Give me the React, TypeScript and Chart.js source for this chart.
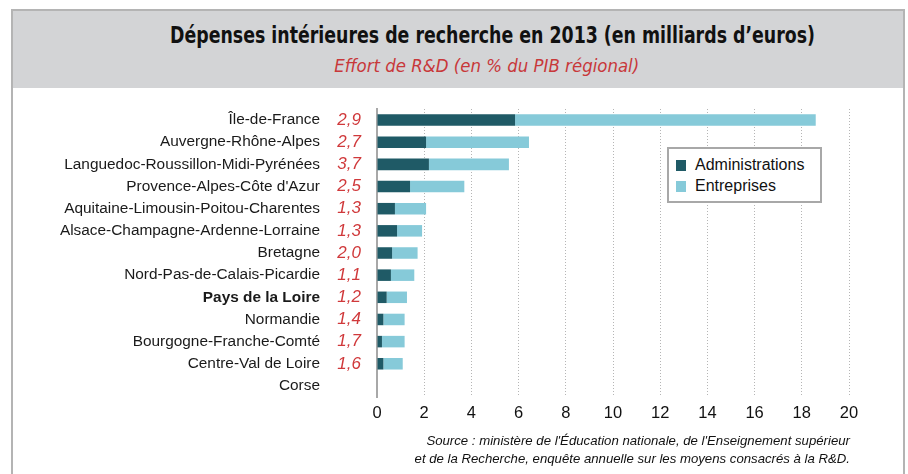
import React, { useEffect, useLayoutEffect, useRef } from 'react';
import { Chart, registerables } from 'chart.js';

Chart.register(...registerables);

const regions = [
  'Île-de-France',
  'Auvergne-Rhône-Alpes',
  'Languedoc-Roussillon-Midi-Pyrénées',
  "Provence-Alpes-Côte d'Azur",
  'Aquitaine-Limousin-Poitou-Charentes',
  'Alsace-Champagne-Ardenne-Lorraine',
  'Bretagne',
  'Nord-Pas-de-Calais-Picardie',
  'Pays de la Loire',
  'Normandie',
  'Bourgogne-Franche-Comté',
  'Centre-Val de Loire',
  'Corse',
];
const effortRD = ['2,9', '2,7', '3,7', '2,5', '1,3', '1,3', '2,0', '1,1', '1,2', '1,4', '1,7', '1,6', ''];
const administrations = [5.85, 2.08, 2.2, 1.4, 0.76, 0.85, 0.64, 0.59, 0.41, 0.27, 0.21, 0.27, 0];
const entreprises = [12.74, 4.36, 3.39, 2.3, 1.32, 1.06, 1.08, 0.99, 0.86, 0.9, 0.96, 0.82, 0];
const seriesNames = ['Administrations', 'Entreprises'];
const seriesColors = ['#1f5a66', '#86cad9'];
const highlighted = 'Pays de la Loire';
const xMin = 0;
const xMax = 20;
const xStep = 2;

const titleText = 'Dépenses intérieures de recherche en 2013 (en milliards d’euros)';
const subtitleText = 'Effort de R&D (en % du PIB régional)';
const sourceLines = [
  "Source : ministère de l'Éducation nationale, de l'Enseignement supérieur",
  'et de la Recherche, enquête annuelle sur les moyens consacrés à la R&D.',
];

const FONT = '"Liberation Sans", Arial, sans-serif';
const CONDENSED = '"DejaVu Sans Condensed", "DejaVu Sans", sans-serif';

function FitText({ text, width, style }: { text: string; width: number; style: React.CSSProperties }) {
  const ref = useRef<HTMLSpanElement>(null);
  useLayoutEffect(() => {
    const el = ref.current;
    if (!el) return;
    el.style.transform = 'none';
    const w = el.getBoundingClientRect().width;
    if (w > 0) el.style.transform = `scaleX(${width / w})`;
  }, [text, width]);
  return (
    <span
      ref={ref}
      style={{ display: 'inline-block', whiteSpace: 'nowrap', transformOrigin: 'center', ...style }}
    >
      {text}
    </span>
  );
}

export default function App() {
  const canvasRef = useRef<HTMLCanvasElement>(null);

  useEffect(() => {
    if (!canvasRef.current) return;
    const seriesData = [administrations, entreprises];
    const chart = new Chart(canvasRef.current, {
      type: 'bar',
      data: {
        labels: regions,
        datasets: seriesNames.map((name, i) => ({
          label: name,
          data: seriesData[i],
          backgroundColor: seriesColors[i],
          borderWidth: 0,
          barPercentage: 0.52,
          categoryPercentage: 1,
        })),
      },
      options: {
        indexAxis: 'y',
        responsive: false,
        animation: false,
        layout: { padding: { left: 0, right: 59, top: 109, bottom: 47 } },
        plugins: {
          legend: { display: false },
          tooltip: { enabled: false },
          title: { display: false },
        },
        scales: {
          x: {
            type: 'linear',
            stacked: true,
            min: xMin,
            max: xMax,
            position: 'bottom',
            ticks: {
              stepSize: xStep,
              color: '#111',
              padding: 7,
              font: { family: FONT, size: 16.5 },
              callback: (v: any) => String(v),
            },
            grid: {
              color: (ctx: any) => (ctx.tick && ctx.tick.value === 0 ? 'rgba(0,0,0,0)' : '#b5b5b5'),
              lineWidth: 1,
              drawTicks: false,
            },
            border: { display: false, dash: [1, 2] },
            afterFit: (s: any) => {
              s.height = 30;
            },
          },
          y: {
            type: 'category',
            stacked: true,
            position: 'left',
            weight: 1,
            offset: true,
            grid: { display: false, drawTicks: false },
            border: { display: false },
            ticks: {
              color: '#1a1a1a',
              padding: 3,
              autoSkip: false,
              font: (ctx: any) => ({
                family: FONT,
                size: 15.4,
                weight: regions[ctx.index] === highlighted ? 'bold' : 'normal',
              }),
            },
            afterFit: (s: any) => {
              s.width = 323;
            },
          },
          y2: {
            type: 'category',
            labels: effortRD,
            position: 'left',
            weight: 0,
            offset: true,
            grid: { display: false, drawTicks: false },
            border: { display: true, color: '#a8a8a8', width: 2 },
            ticks: {
              color: '#d0393b',
              padding: 16,
              autoSkip: false,
              font: { family: FONT, size: 17, style: 'italic' },
            },
            afterFit: (s: any) => {
              s.width = 54;
            },
          },
        } as any,
      },
    } as any);
    return () => chart.destroy();
  }, []);

  return (
    <div style={{ position: 'absolute', left: 0, top: 0, width: 908, height: 474, overflow: 'hidden', background: '#fff' }}>
      {/* frame */}
      <div
        style={{
          position: 'absolute',
          left: 11,
          top: 9,
          width: 890,
          height: 480,
          borderTop: '2px solid #b4b4b4',
          borderLeft: '2px solid #b4b4b4',
          borderRight: '2px solid #b4b4b4',
        }}
      />
      {/* header */}
      <div style={{ position: 'absolute', left: 13, top: 11, width: 890, height: 77, background: '#d3d4d6' }} />
      <div
        style={{
          position: 'absolute',
          left: 92,
          top: 24,
          width: 800,
          textAlign: 'center',
          lineHeight: '23px',
          height: 23,
        }}
      >
        <FitText
          text={titleText}
          width={645}
          style={{ fontFamily: CONDENSED, fontWeight: 700, fontSize: 23.5, color: '#111', fontStretch: 'condensed' }}
        />
      </div>
      <div
        style={{
          position: 'absolute',
          left: 87,
          top: 58,
          width: 800,
          textAlign: 'center',
          lineHeight: '17px',
          height: 17,
        }}
      >
        <FitText
          text={subtitleText}
          width={305}
          style={{ fontFamily: CONDENSED, fontStyle: 'italic', fontSize: 17, color: '#c8383a', fontStretch: 'condensed' }}
        />
      </div>
      {/* chart */}
      <canvas ref={canvasRef} width={908} height={474} style={{ position: 'absolute', left: 0, top: 0, width: 908, height: 474 }} />
      {/* legend */}
      <div
        style={{
          position: 'absolute',
          left: 667,
          top: 147,
          width: 151,
          height: 52,
          border: '2px solid #a8a8a8',
          background: '#fff',
          fontFamily: FONT,
          fontSize: 16,
          color: '#111',
        }}
      >
        {seriesNames.map((name, i) => (
          <div key={name} style={{ position: 'absolute', left: 7, top: 6 + i * 21, height: 20, display: 'flex', alignItems: 'center' }}>
            <div style={{ width: 10, height: 11, background: seriesColors[i], marginRight: 9 }} />
            <span style={{ lineHeight: '20px' }}>{name}</span>
          </div>
        ))}
      </div>
      {/* source */}
      <div
        style={{
          position: 'absolute',
          right: 58,
          top: 432,
          textAlign: 'right',
          fontFamily: FONT,
          fontStyle: 'italic',
          fontSize: 13.2,
          lineHeight: '18px',
          color: '#111',
          whiteSpace: 'nowrap',
        }}
      >
        {sourceLines.map((l) => (
          <div key={l}>{l}</div>
        ))}
      </div>
    </div>
  );
}
